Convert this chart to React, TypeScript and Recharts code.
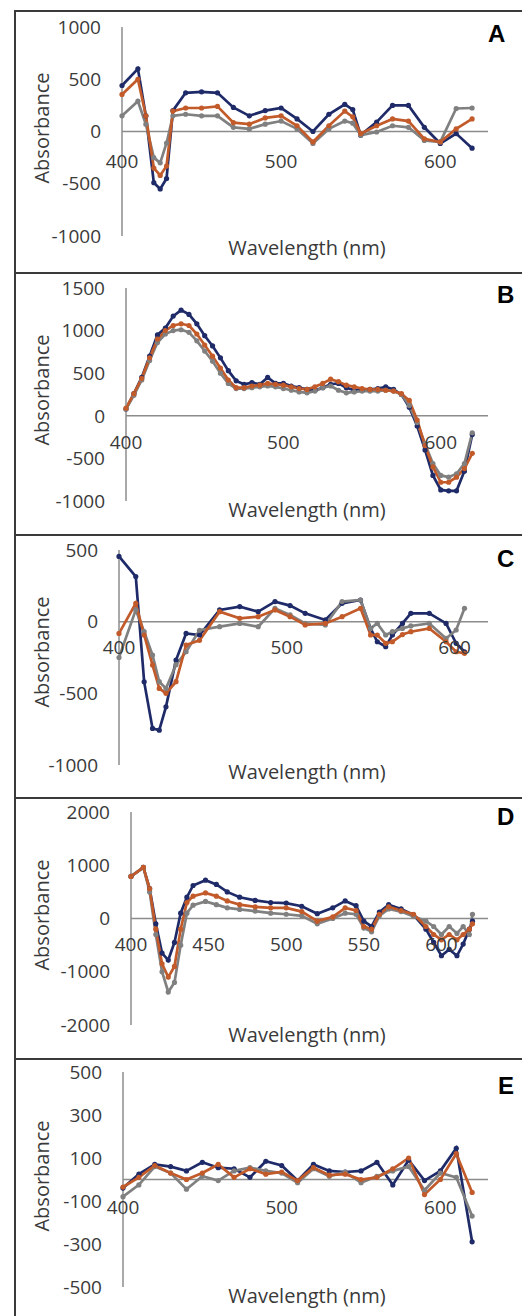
import { LineChart, Line, XAxis, YAxis, ReferenceLine, ReferenceDot } from 'recharts';

// Panel A
const wlA = [400, 410, 415, 420, 424, 428, 432, 440, 450, 460, 470, 480, 490, 500, 510, 520, 530, 540, 545, 550, 560, 570, 580, 590, 600, 610, 620];
const navyA = [440, 600, 150, -490, -550, -450, 200, 370, 380, 370, 230, 150, 200, 225, 120, 0, 165, 260, 210, -35, 90, 250, 250, 40, -115, -20, -160];
const orangeA = [355, 500, 150, -350, -420, -330, 195, 225, 225, 240, 85, 70, 130, 150, 55, -100, 55, 195, 140, -20, 55, 120, 100, -70, -100, 25, 120];
const grayA = [150, 290, 70, -250, -300, -110, 150, 165, 150, 150, 40, 25, 70, 100, 25, -115, 25, 100, 80, -35, -5, 55, 40, -85, -100, 220, 225];

// Panel B
const wlB = [400, 405, 410, 415, 420, 425, 430, 435, 440, 445, 450, 455, 460, 465, 470, 475, 480, 485, 490, 495, 500, 505, 510, 515, 520, 525, 530, 535, 540, 545, 550, 555, 560, 565, 570, 575, 580, 585, 590, 595, 600, 605, 610, 615, 620];
const navyB = [80, 260, 450, 700, 950, 1030, 1170, 1240, 1190, 1080, 940, 820, 680, 530, 410, 370, 390, 370, 450, 380, 380, 350, 330, 310, 300, 330, 370, 380, 330, 300, 300, 310, 320, 340, 310, 250, 100, -120, -400, -700, -870, -880, -880, -650, -220];
const orangeB = [90, 260, 440, 680, 900, 1000, 1060, 1080, 1060, 960, 830, 700, 560, 420, 330, 330, 350, 360, 380, 370, 360, 340, 320, 310, 340, 380, 430, 400, 360, 340, 320, 310, 310, 300, 290, 260, 180, -50, -350, -600, -780, -780, -720, -620, -440];
const grayB = [80, 240, 420, 650, 860, 960, 1000, 1010, 980, 880, 760, 640, 500, 380, 320, 320, 330, 340, 350, 340, 320, 300, 280, 270, 290, 330, 350, 300, 270, 280, 290, 290, 290, 300, 290, 250, 120, -80, -330, -560, -700, -720, -680, -560, -200];

// Panel C
const wlC = [400, 410, 415, 420, 424, 428, 434, 440, 448, 460, 472, 483, 493, 502, 511, 523, 533, 544, 550, 554, 559, 563, 569, 574, 585, 595, 601, 606];
const navyC = [455, 315, -420, -745, -757, -594, -268, -82, -93, 82, 105, 70, 140, 112, 58, 12, 128, 151, -47, -140, -175, -93, -12, 58, 58, -12, -151, -210];
const orangeC = [-82, 128, -93, -303, -466, -500, -419, -163, -130, 70, 23, 35, 82, 35, -23, -12, 35, 93, -93, -93, -151, -140, -90, -70, -47, -140, -210, -221];
const grayC = [-250, 82, -70, -233, -419, -466, -300, -210, -60, -35, -12, -35, 93, 47, -12, -23, 140, 151, -47, -12, -93, -70, -47, -30, -12, -117, -58, 93];

// Panel D
const wlD = [400, 408, 412, 416, 420, 424, 428, 432, 436, 440, 448, 455, 462, 470, 480, 490, 500, 510, 520, 530, 538, 545, 550, 555, 560, 566, 574, 582, 590, 595, 600, 605, 610, 614, 618, 620];
const navyD = [790, 960, 560, -100, -650, -780, -450, 100, 400, 620, 720, 640, 500, 400, 340, 300, 290, 230, 90, 200, 330, 240, -50, -150, 120, 260, 180, 70, -200, -450, -700, -580, -700, -480, -200, -50];
const orangeD = [790, 960, 560, -200, -850, -1100, -900, -200, 300, 420, 480, 420, 330, 260, 220, 200, 200, 130, -50, 30, 200, 150, -150, -200, 80, 220, 150, 80, -150, -300, -400, -300, -400, -300, -200, -100];
const grayD = [790, 960, 500, -300, -1000, -1380, -1200, -500, 100, 250, 320, 260, 200, 170, 140, 100, 80, 50, -100, 0, 100, 80, -180, -250, 50, 180, 130, 40, -50, -150, -300, -150, -280, -150, -300, 80];

// Panel E
const wlE = [400, 410, 420, 430, 440, 450, 460, 470, 480, 490, 500, 510, 520, 530, 540, 550, 560, 570, 580, 590, 600, 610, 620];
const navyE = [-40, 25, 70, 60, 40, 80, 55, 50, 10, 85, 65, -5, 70, 40, 35, 40, 80, -25, 90, -5, 40, 145, -290];
const orangeE = [-35, 10, 65, 30, 0, 30, 70, 10, 50, 25, 35, -5, 55, 20, 25, 0, 10, 50, 100, -70, 0, 120, -60];
const grayE = [-80, -25, 60, 30, -45, 15, -5, 40, 55, 40, 30, -15, 50, 15, 35, -15, 15, 40, 60, -50, 30, 10, -170];

const yTicksA = [-1000, -500, 0, 500, 1000];
const yTicksB = [-1000, -500, 0, 500, 1000, 1500];
const yTicksC = [-1000, -500, 0, 500];
const yTicksD = [-2000, -1000, 0, 1000, 2000];
const yTicksE = [-500, -300, -100, 100, 300, 500];

const xTicksA = [400, 500, 600];
const xTicksB = [400, 500, 600];
const xTicksC = [400, 500, 600];
const xTicksD = [400, 450, 500, 550, 600];
const xTicksE = [400, 500, 600];

const NAVY = '#1f2b68';
const ORANGE = '#c25a2a';
const GRAY = '#808080';
const AXIS = '#8c8c8c';
const TEXT = '#3a3a3a';
const FONT = '"Open Sans", sans-serif';

const panels = [
  { id: 'A', wl: wlA, navy: navyA, orange: orangeA, gray: grayA, yTicks: yTicksA, xTicks: xTicksA, xMax: 630, top: 10, bottom: 272, plotTop: 27, plotBottom: 236, plotLeft: 122, labelOffset: 23, letterX: 488, letterY: 25 },
  { id: 'B', wl: wlB, navy: navyB, orange: orangeB, gray: grayB, yTicks: yTicksB, xTicks: xTicksB, xMax: 630, top: 272, bottom: 534, plotTop: 288, plotBottom: 501, plotLeft: 126, labelOffset: 20, letterX: 497, letterY: 286 },
  { id: 'C', wl: wlC, navy: navyC, orange: orangeC, gray: grayC, yTicks: yTicksC, xTicks: xTicksC, xMax: 620, top: 534, bottom: 797, plotTop: 550, plotBottom: 765, plotLeft: 119, labelOffset: 19, letterX: 497, letterY: 550 },
  { id: 'D', wl: wlD, navy: navyD, orange: orangeD, gray: grayD, yTicks: yTicksD, xTicks: xTicksD, xMax: 630, top: 797, bottom: 1058, plotTop: 812, plotBottom: 1025, plotLeft: 131, labelOffset: 19, letterX: 497, letterY: 808 },
  { id: 'E', wl: wlE, navy: navyE, orange: orangeE, gray: grayE, yTicks: yTicksE, xTicks: xTicksE, xMax: 630, top: 1058, bottom: 1316, plotTop: 1072, plotBottom: 1287, plotLeft: 123, labelOffset: 21, letterX: 498, letterY: 1077 },
];

const PAGE_W = 522;
const PLOT_RIGHT = 488;

function Panel({ p }: { p: (typeof panels)[number] }) {
  const data = p.wl.map((wl, i) => ({ wl, navy: p.navy[i], orange: p.orange[i], gray: p.gray[i] }));
  const chartTop = p.top + 2;
  const chartH = p.bottom - chartTop;
  const yMin = p.yTicks[0];
  const yMax = p.yTicks[p.yTicks.length - 1];

  return (
    <>
      <div style={{ position: 'absolute', left: 0, top: chartTop, width: PAGE_W, height: chartH }}>
        <LineChart
          width={PAGE_W}
          height={chartH}
          data={data}
          margin={{ top: p.plotTop - chartTop, right: PAGE_W - PLOT_RIGHT, bottom: chartH - (p.plotBottom - chartTop), left: 0 }}
        >
          <XAxis dataKey="wl" type="number" domain={[400, p.xMax]} hide />
          <YAxis
            type="number"
            domain={[yMin, yMax]}
            ticks={p.yTicks}
            interval={0}
            width={p.plotLeft}
            axisLine={{ stroke: AXIS, strokeWidth: 1.5 }}
            tickLine={false}
            tickSize={0}
            tickMargin={21}
            tick={{ fill: TEXT, fontSize: 19, fontFamily: FONT }}
          />
          <ReferenceLine y={0} stroke={AXIS} strokeWidth={1.5} />
          {p.xTicks.map((t) => (
            <ReferenceDot
              key={t}
              x={t}
              y={0}
              r={0}
              fill="none"
              stroke="none"
              label={{ value: String(t), position: 'bottom', offset: p.labelOffset, fill: TEXT, fontSize: 19, fontFamily: FONT }}
            />
          ))}
          <Line type="linear" dataKey="navy" stroke={NAVY} strokeWidth={2.7} dot={{ r: 2.6, fill: NAVY, stroke: NAVY, strokeWidth: 0 }} activeDot={false} isAnimationActive={false} />
          <Line type="linear" dataKey="gray" stroke={GRAY} strokeWidth={2.7} dot={{ r: 2.6, fill: GRAY, stroke: GRAY, strokeWidth: 0 }} activeDot={false} isAnimationActive={false} />
          <Line type="linear" dataKey="orange" stroke={ORANGE} strokeWidth={2.7} dot={{ r: 2.6, fill: ORANGE, stroke: ORANGE, strokeWidth: 0 }} activeDot={false} isAnimationActive={false} />
        </LineChart>
      </div>
      <div
        style={{
          position: 'absolute', left: 42, top: p.top + 118, transform: 'translate(-50%, -50%) rotate(-90deg)',
          fontFamily: FONT, fontSize: 20, lineHeight: '20px', color: TEXT, whiteSpace: 'nowrap',
        }}
      >
        Absorbance
      </div>
      <div
        style={{
          position: 'absolute', left: 307, top: p.top + 238, transform: 'translate(-50%, -50%)',
          fontFamily: FONT, fontSize: 20, lineHeight: '20px', color: TEXT, whiteSpace: 'nowrap',
        }}
      >
        Wavelength (nm)
      </div>
      <div
        style={{
          position: 'absolute', left: p.letterX, top: p.letterY - 3,
          fontFamily: '"Liberation Sans", Arial, sans-serif', fontWeight: 'bold', fontSize: 24, lineHeight: '24px', color: '#000',
        }}
      >
        {p.id}
      </div>
      {p.top > 10 && (
        <div style={{ position: 'absolute', left: 14, top: p.top, width: PAGE_W - 14, height: 2, background: '#3a3a3a' }} />
      )}
    </>
  );
}

export default function App() {
  return (
    <div style={{ position: 'absolute', left: 0, top: 0, width: PAGE_W, height: 1316, overflow: 'hidden', background: '#fff' }}>
      <div
        style={{
          position: 'absolute', left: 14, top: 10, width: PAGE_W - 14, height: 1306, boxSizing: 'border-box',
          borderLeft: '2px solid #3a3a3a', borderTop: '2px solid #3a3a3a',
        }}
      />
      {panels.map((p) => (
        <Panel key={p.id} p={p} />
      ))}
    </div>
  );
}
